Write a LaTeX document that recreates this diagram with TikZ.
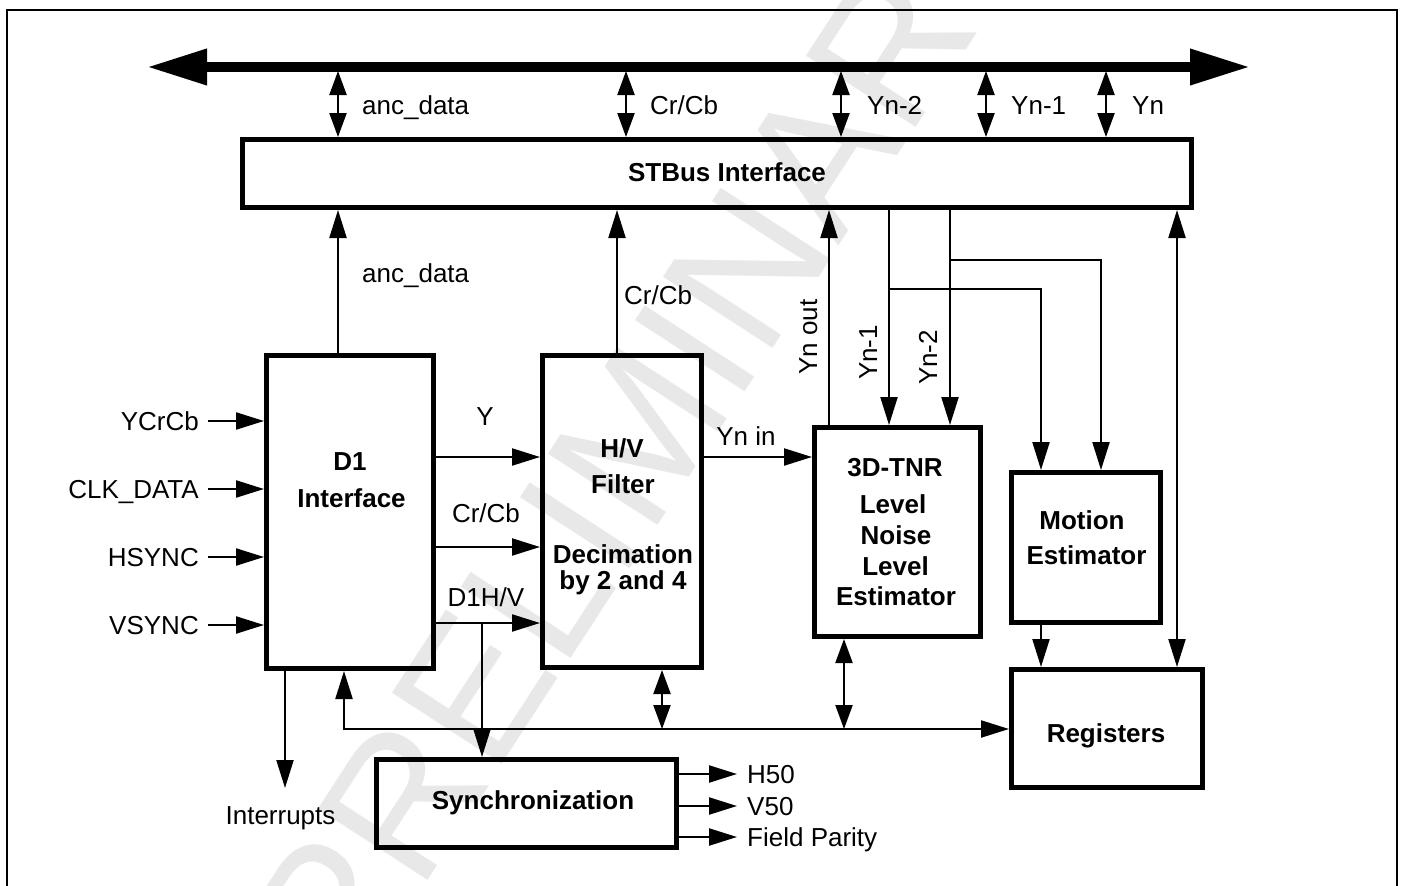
\documentclass[tikz,border=0pt]{standalone}
\usepackage{fontspec}
\setmainfont{Liberation Sans}
\usetikzlibrary{arrows.meta}
\begin{document}
\begin{tikzpicture}[x=1pt,y=-1pt,
  box/.style={draw, line width=5pt, inner sep=0pt},
  txt/.style={inner sep=0pt, font=\fontsize{26}{30}\selectfont},
  btxt/.style={inner sep=0pt, font=\fontsize{26}{30}\selectfont\bfseries},
  ln/.style={line width=2.2pt},
  arr/.style={ln, -{Triangle[length=28pt,width=17pt]}},
  bidi/.style={ln, {Triangle[length=24pt,width=17pt]}-{Triangle[length=24pt,width=17pt]}},
  bidil/.style={ln, {Triangle[length=28pt,width=17pt]}-{Triangle[length=28pt,width=17pt]}},
]
\useasboundingbox (0,0) rectangle (1401,886);

% watermark
\node[inner sep=0pt, font=\fontsize{190}{190}\selectfont, text=black!9, rotate=57] (wm) at (645,425) {PRELIMINARY};

% frame
\draw[line width=2pt] (7,886) -- (7,10) -- (1397,10) -- (1397,886);

% main bus
\coordinate (busL) at (147,67);
\coordinate (busR) at (1250,67);
\draw[line width=10pt, {Triangle[length=60pt,width=34pt]}-{Triangle[length=60pt,width=34pt]}] (busL) -- (busR);

% boxes
\node[box, minimum width=949pt, minimum height=68pt] (stbus) at (717,173.5) {};
\node[box, minimum width=167pt, minimum height=313pt] (d1) at (350,512) {};
\node[box, minimum width=159pt, minimum height=312pt] (hv) at (622,511.5) {};
\node[box, minimum width=166pt, minimum height=209pt] (tnr) at (897.5,532) {};
\node[box, minimum width=149pt, minimum height=150pt] (me) at (1086,547.5) {};
\node[box, minimum width=191pt, minimum height=118pt] (reg) at (1107,728.5) {};
\node[box, minimum width=300pt, minimum height=88pt] (sync) at (526.5,803.5) {};

% box texts
\node[btxt, anchor=base] (tst) at (727,181) {STBus Interface};
\node[btxt, anchor=base] (td1a) at (350,470) {D1};
\node[btxt, anchor=base] (td1b) at (351.5,507) {Interface};
\node[btxt, anchor=base] (thva) at (622,457) {H/V};
\node[btxt, anchor=base] (thvb) at (623,493) {Filter};
\node[btxt, anchor=base] (thvc) at (623,563) {Decimation};
\node[btxt, anchor=base] (thvd) at (623,589) {by 2 and 4};
\node[btxt, anchor=base] (ttna) at (895,476) {3D-TNR};
\node[btxt, anchor=base] (ttnb) at (893,513) {Level};
\node[btxt, anchor=base] (ttnc) at (896,544) {Noise};
\node[btxt, anchor=base] (ttnd) at (895.5,575) {Level};
\node[btxt, anchor=base] (ttne) at (896,605) {Estimator};
\node[btxt, anchor=base] (tmea) at (1082,529) {Motion};
\node[btxt, anchor=base] (tmeb) at (1086.5,564) {Estimator};
\node[btxt, anchor=base] (treg) at (1106,742) {Registers};
\node[btxt, anchor=base] (tsync) at (533,809) {Synchronization};

% bus taps
\coordinate (tapa) at (338,71);
\coordinate (tapb) at (626,71);
\coordinate (tapc) at (841,71);
\coordinate (tapd) at (986,71);
\coordinate (tape) at (1106,71);
\draw[bidi] (tapa) -- (tapa |- stbus.north);
\draw[bidi] (tapb) -- (tapb |- stbus.north);
\draw[bidi] (tapc) -- (tapc |- stbus.north);
\draw[bidi] (tapd) -- (tapd |- stbus.north);
\draw[bidi] (tape) -- (tape |- stbus.north);
\node[txt, anchor=base west] (lt1) at (362,114) {anc\_data};
\node[txt, anchor=base west] (lt2) at (650,114) {Cr/Cb};
\node[txt, anchor=base west] (lt3) at (867,114) {Yn-2};
\node[txt, anchor=base west] (lt4) at (1011,114) {Yn-1};
\node[txt, anchor=base west] (lt5) at (1132,114) {Yn};

% up to STBus
\draw[arr] (338,0 |- d1.north) -- (338,0 |- stbus.south);
\node[txt, anchor=base west] (lanc) at (362,282) {anc\_data};
\draw[arr] (617,0 |- hv.north) -- (617,0 |- stbus.south);
\node[txt, anchor=base west] (lcrcb) at (624,304) {Cr/Cb};
\draw[arr] (829,0 |- tnr.north) -- (829,0 |- stbus.south);
\node[txt, rotate=90, anchor=base west] (lynout) at (817,375) {Yn out};

% Yn-1 / Yn-2 down
\draw[arr] (889,0 |- stbus.south) -- (889,0 |- tnr.north);
\coordinate (j1) at (889,289);
\draw[arr] (j1) -| (1041,0 |- me.north);
\node[txt, rotate=90, anchor=base west] (lyn1) at (877,380) {Yn-1};
\draw[arr] (950,0 |- stbus.south) -- (950,0 |- tnr.north);
\coordinate (j2) at (950,260);
\draw[arr] (j2) -| (1101,0 |- me.north);
\node[txt, rotate=90, anchor=base west] (lyn2) at (937,385) {Yn-2};

% Yn to registers
\draw[bidil] (1177,0 |- stbus.south) -- (1177,0 |- reg.north);

% inputs
\coordinate (in1) at (208,421);
\coordinate (in2) at (208,489);
\coordinate (in3) at (208,557);
\coordinate (in4) at (208,625);
\draw[arr] (in1) -- (in1 -| d1.west);
\draw[arr] (in2) -- (in2 -| d1.west);
\draw[arr] (in3) -- (in3 -| d1.west);
\draw[arr] (in4) -- (in4 -| d1.west);
\node[txt, anchor=base east] (li1) at (199,430.3) {YCrCb};
\node[txt, anchor=base east] (li2) at (199,498.3) {CLK\_DATA};
\node[txt, anchor=base east] (li3) at (199,566.3) {HSYNC};
\node[txt, anchor=base east] (li4) at (199,634.3) {VSYNC};

% D1 -> H/V
\draw[arr] (d1.east |- 0,457) -- (hv.west |- 0,457);
\draw[arr] (d1.east |- 0,547) -- (hv.west |- 0,547);
\draw[arr] (d1.east |- 0,623) -- (hv.west |- 0,623);
\node[txt, anchor=base] (ly) at (485,425) {Y};
\node[txt, anchor=base] (lcr2) at (486,522) {Cr/Cb};
\node[txt, anchor=base] (ld1hv) at (486,606) {D1H/V};
\coordinate (j3) at (482,623);
\draw[arr] (j3) -- (j3 |- sync.north);

% H/V -> 3D-TNR
\draw[arr] (hv.east |- 0,457) -- (tnr.west |- 0,457);
\node[txt, anchor=base] (lynin) at (746,445) {Yn in};

% interrupts
\coordinate (intend) at (285,788);
\draw[arr] (intend |- d1.south) -- (intend);
\node[txt, anchor=base] (lint) at (280.5,824) {Interrupts};

% control bus
\coordinate (cb) at (344,729);
\draw[bidil] (cb |- d1.south) -- (cb) -- (reg.west |- cb);
\draw[bidi] (662,0 |- hv.south) -- (662,729);
\draw[bidi] (844,0 |- tnr.south) -- (844,729);

% motion -> registers
\draw[arr] (1041,0 |- me.south) -- (1041,0 |- reg.north);

% sync outputs
\coordinate (o1) at (737,774);
\coordinate (o2) at (737,806);
\coordinate (o3) at (737,837);
\draw[arr] (o1 -| sync.east) -- (o1);
\draw[arr] (o2 -| sync.east) -- (o2);
\draw[arr] (o3 -| sync.east) -- (o3);
\node[txt, anchor=base west] (lo1) at (747,783.3) {H50};
\node[txt, anchor=base west] (lo2) at (747,815.3) {V50};
\node[txt, anchor=base west] (lo3) at (747,846.3) {Field Parity};
\end{tikzpicture}
\end{document}
